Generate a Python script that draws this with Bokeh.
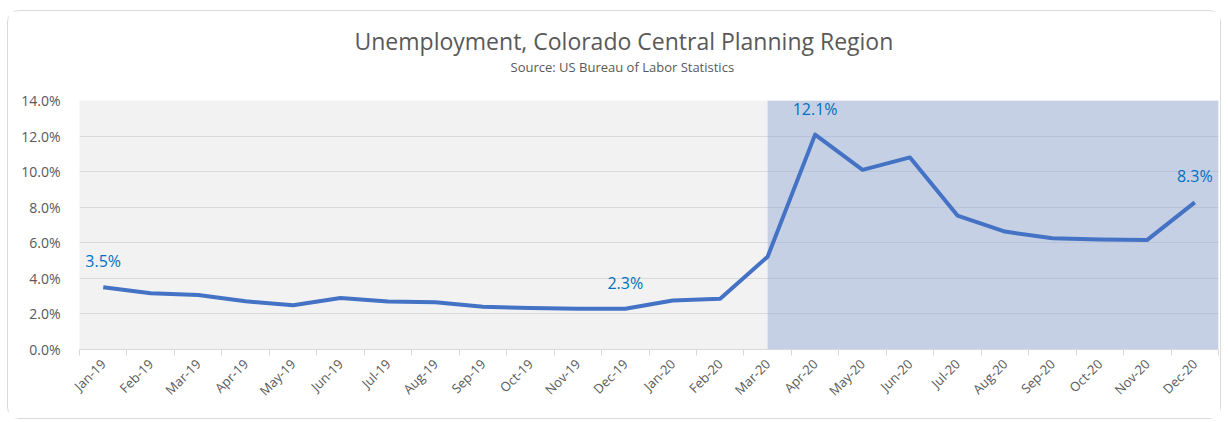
from bokeh.plotting import figure
from bokeh.models import FixedTicker, Range1d, Title, ColumnDataSource
from bokeh.core.properties import value
from bokeh.embed import file_html
from bokeh.resources import INLINE

months = ["Jan-19", "Feb-19", "Mar-19", "Apr-19", "May-19", "Jun-19", "Jul-19", "Aug-19",
          "Sep-19", "Oct-19", "Nov-19", "Dec-19", "Jan-20", "Feb-20", "Mar-20", "Apr-20",
          "May-20", "Jun-20", "Jul-20", "Aug-20", "Sep-20", "Oct-20", "Nov-20", "Dec-20"]
rates = [3.5, 3.16, 3.07, 2.71, 2.49, 2.9, 2.70, 2.66, 2.40, 2.34, 2.29, 2.29,
         2.75, 2.85, 5.22, 12.08, 10.1, 10.8, 7.53, 6.63, 6.25, 6.18, 6.16, 8.27]
labeled_months = ["Jan-19", "Dec-19", "Apr-20", "Dec-20"]
labeled_texts = ["3.5%", "2.3%", "12.1%", "8.3%"]
shade_start = "Mar-20"
y_ticks = [0, 2, 4, 6, 8, 10, 12, 14]
y_tick_labels = ["0.0%", "2.0%", "4.0%", "6.0%", "8.0%", "10.0%", "12.0%", "14.0%"]

title_text = "Unemployment, Colorado Central Planning Region"
subtitle_text = "Source: US Bureau of Labor Statistics"

FONT = "Open Sans"
GRAY = "#595959"

n = len(months)
xs = [i + 0.5 for i in range(n)]

p = figure(width=1214, height=409, output_backend="svg", toolbar_location=None,
           x_range=Range1d(0, n), y_range=Range1d(y_ticks[0], y_ticks[-1]),
           title=None, min_border_left=71, min_border_right=4, min_border_bottom=71,
           min_border_top=89)
p.styles = {"border": "1px solid #d9d9d9", "border-radius": "12px",
            "margin-left": "7px", "margin-top": "10px"}
p.background_fill_color = "#f2f2f2"
p.border_fill_color = "white"
p.outline_line_color = None

sub = Title(text=subtitle_text, align="left", text_font=FONT, text_font_size="13px",
            text_color=GRAY, text_font_style="normal", offset=431, standoff=50)
p.add_layout(sub, "above")
main = Title(text=title_text, align="left", text_font=FONT, text_font_size="23px",
             text_color=GRAY, text_font_style="normal", offset=275, standoff=-52)
p.add_layout(main, "above")

# shaded period
s0 = months.index(shade_start) + 0.5
p.quad(left=[s0], right=[n], bottom=[y_ticks[0]], top=[y_ticks[-1]],
       fill_color="#98aed6", fill_alpha=0.5, line_color=None)

p.line(xs, rates, line_width=4, line_color="#4472c4", line_join="round")

lx = [xs[months.index(m)] for m in labeled_months]
ly = [rates[months.index(m)] for m in labeled_months]
src = ColumnDataSource(dict(x=lx, y=ly, t=labeled_texts))
p.text(x="x", y="y", text="t", source=src, text_align="center", text_baseline="middle",
       y_offset=-26, text_font=value(FONT), text_font_size="16px", text_color="#0070c0")

# axes
p.xgrid.grid_line_color = None
p.ygrid.ticker = FixedTicker(ticks=y_ticks)
p.ygrid.grid_line_color = "#d9d9d9"
p.ygrid.grid_line_width = 1

p.yaxis.ticker = FixedTicker(ticks=y_ticks)
p.yaxis.major_label_overrides = {t: l for t, l in zip(y_ticks, y_tick_labels)}
p.yaxis.axis_line_color = None
p.yaxis.major_tick_line_color = None
p.yaxis.minor_tick_line_color = None
p.yaxis.major_label_standoff = 13
p.yaxis.major_label_text_font = FONT
p.yaxis.major_label_text_font_size = "14px"
p.yaxis.major_label_text_color = GRAY

p.xaxis.ticker = FixedTicker(ticks=xs, minor_ticks=list(range(n + 1)))
p.xaxis.major_label_overrides = {x: m for x, m in zip(xs, months)}
p.xaxis.major_label_orientation = 0.785398
p.xaxis.axis_line_color = "#d9d9d9"
p.xaxis.major_tick_line_color = None
p.xaxis.minor_tick_line_color = "#d9d9d9"
p.xaxis.minor_tick_out = 6
p.xaxis.minor_tick_in = 0
p.xaxis.major_label_standoff = 6
p.xaxis.major_label_text_font = FONT
p.xaxis.major_label_text_font_size = "13px"
p.xaxis.major_label_text_color = GRAY

open("out.html", "w").write(file_html(p, INLINE))
